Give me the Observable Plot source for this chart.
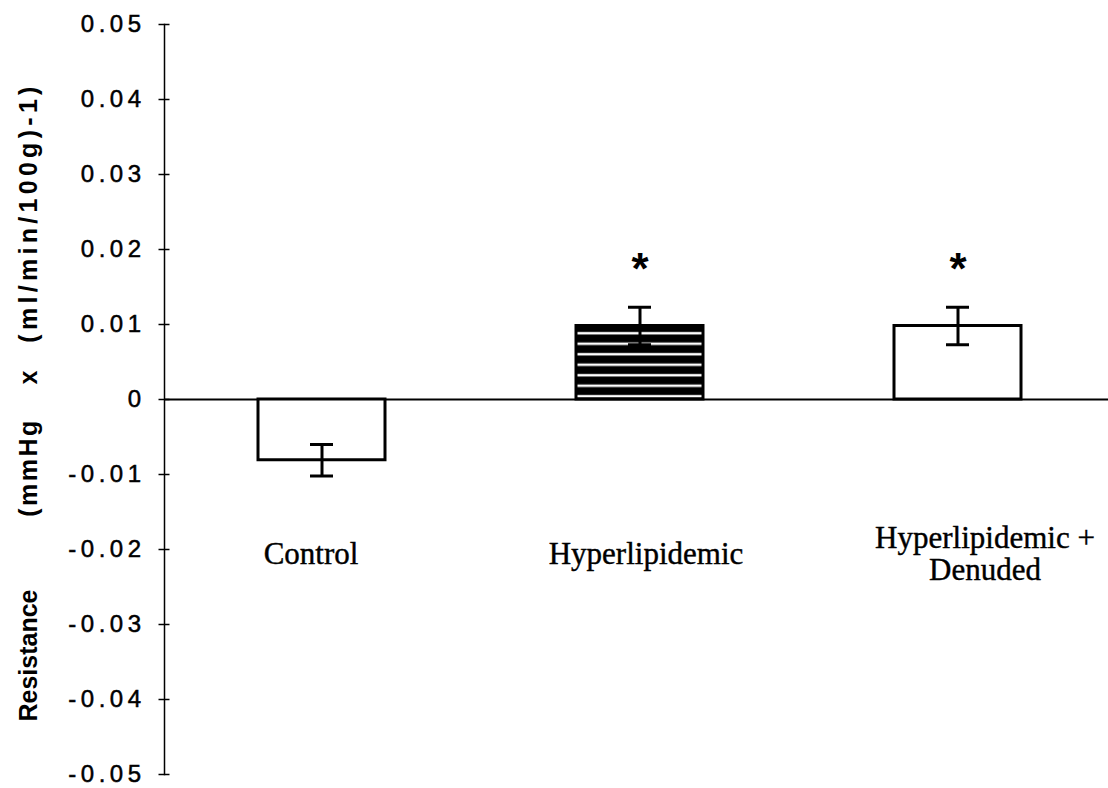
<!DOCTYPE html>
<html>
<head>
<meta charset="utf-8">
<script src="https://cdn.jsdelivr.net/npm/d3@7"></script>
<script src="https://cdn.jsdelivr.net/npm/@observablehq/plot@0.6"></script>
<style>
  html, body { margin: 0; padding: 0; background: #fff; }
  #chart svg { display: block; }
</style>
</head>
<body>
<div id="chart"></div>
<script>
// Group names, in drawing order
const groups = ["Control", "Hyperlipidemic", "Hyperlipidemic +\nDenuded"];
// Mean change in resistance for each group
const means = [-0.0081, 0.0098, 0.0098];
// Standard error for each group
const errors = [0.0021, 0.0025, 0.0025];
// Groups marked as significantly different from control
const significant = [false, true, true];
// Y axis tick values
const yTicks = [0.05, 0.04, 0.03, 0.02, 0.01, 0, -0.01, -0.02, -0.03, -0.04, -0.05];
// Pieces of the y axis title, read bottom to top
const titleParts = ["Resistance", "(mmHg", "x", "(ml/min/100g)-1)"];

const rows = groups.map((g, i) => ({
  group: g,
  mean: means[i],
  lo: means[i] - errors[i],
  hi: means[i] + errors[i],
  sig: significant[i]
}));

const hatchedGroup = "Hyperlipidemic";
// horizontal nudges for the category labels, in pixels
const labelShift = {"Control": -11, "Hyperlipidemic": 6, "Hyperlipidemic +\nDenuded": 27};
// vertical offset and letter spacing of each title piece, relative to the frame centre
const titleLayout = [
  {dy: 256, spacing: 0},
  {dy: 68, spacing: 2.5},
  {dy: -22, spacing: 0},
  {dy: -187, spacing: 4.3}
];

const fmt = v => v === 0 ? "0" : (v < 0 ? "-" : "") + Math.abs(v).toFixed(2);
const sans = "Liberation Sans, Arial, Helvetica, sans-serif";
const serif = "Liberation Serif, Times New Roman, serif";

const chart = Plot.plot({
  width: 1108,
  height: 788,
  marginLeft: 164,
  marginRight: 0,
  marginTop: 24,
  marginBottom: 14,
  style: {background: "#fff", color: "#000", overflow: "visible"},
  x: {domain: groups, paddingInner: 0.6, paddingOuter: 0.284, align: 0.52, axis: null},
  y: {domain: [-0.05, 0.05], axis: null},
  marks: [
    // left axis line
    Plot.frame({anchor: "left", stroke: "#000", strokeWidth: 1.5, strokeDasharray: "7,1.5"}),
    // tick marks crossing the axis line
    Plot.axisY({ticks: yTicks, tickSize: 11, dx: 5.5, tickFormat: () => "", label: null, strokeWidth: 1.5, stroke: "#000"}),
    // tick labels
    Plot.axisY({
      ticks: yTicks, tickSize: 0, tickPadding: 19, label: null,
      tickFormat: fmt,
      fontSize: 24, fontFamily: sans,
      fill: "#000"
    }),
    // y axis title, one piece per word group
    ...titleParts.map((t, i) => Plot.text([t], {
      frameAnchor: "left", dx: -136, dy: titleLayout[i].dy, rotate: -90,
      fontSize: 25, fontWeight: "bold", fontFamily: sans,
      fill: "#000", textAnchor: "middle", lineAnchor: "middle",
      className: "title-part-" + i
    })),
    // baseline at zero
    Plot.ruleY([0], {stroke: "#000", strokeWidth: 1.8}),
    // bars
    Plot.barY(rows, {
      x: "group", y: "mean",
      fill: d => d.group === hatchedGroup ? "url(#hlines)" : "#fff",
      stroke: "#000", strokeWidth: 3
    }),
    // error bars
    Plot.ruleX(rows, {x: "group", y1: "lo", y2: "hi", stroke: "#000", strokeWidth: 3}),
    Plot.tickY(rows, {x: "group", y: "lo", stroke: "#000", strokeWidth: 3, insetLeft: 52, insetRight: 52}),
    Plot.tickY(rows, {x: "group", y: "hi", stroke: "#000", strokeWidth: 3, insetLeft: 52, insetRight: 52}),
    // significance asterisks
    Plot.text(rows.filter(d => d.sig), {
      x: "group", y: "hi", text: () => "*", dy: -37,
      fontSize: 44, fontWeight: "bold", fontFamily: sans,
      fill: "#000", lineAnchor: "middle"
    }),
    // category labels
    ...groups.map(g => Plot.text([g], {
      x: d => d, frameAnchor: "bottom", dy: -221, dx: labelShift[g],
      fontSize: 31, fontFamily: serif,
      fill: "#000", lineAnchor: "middle", lineHeight: 1.05,
      className: "category-label"
    }))
  ]
});

// horizontal-stripe fill used by the hatched bar
const svg = d3.select(chart);
const defs = svg.insert("defs", ":first-child");
const pat = defs.append("pattern")
  .attr("id", "hlines")
  .attr("patternUnits", "userSpaceOnUse")
  .attr("width", 10)
  .attr("height", 10.5);
pat.append("rect").attr("width", 10).attr("height", 10.5).attr("fill", "#000");
pat.append("rect").attr("y", 6.5).attr("width", 10).attr("height", 2.5).attr("fill", "#fff");

// wide, slightly heavy tick labels
svg.selectAll("[aria-label='y-axis tick label'] text")
  .style("letter-spacing", "4.5px")
  .style("stroke", "#000")
  .style("stroke-width", "0.5px");
// letter spacing of each title piece
titleLayout.forEach((l, i) => {
  svg.selectAll(".title-part-" + i + " text").style("letter-spacing", l.spacing + "px");
});
// slightly heavier serif labels
svg.selectAll(".category-label text")
  .style("stroke", "#000")
  .style("stroke-width", "0.4px");

document.getElementById("chart").appendChild(chart);
</script>
</body>
</html>
